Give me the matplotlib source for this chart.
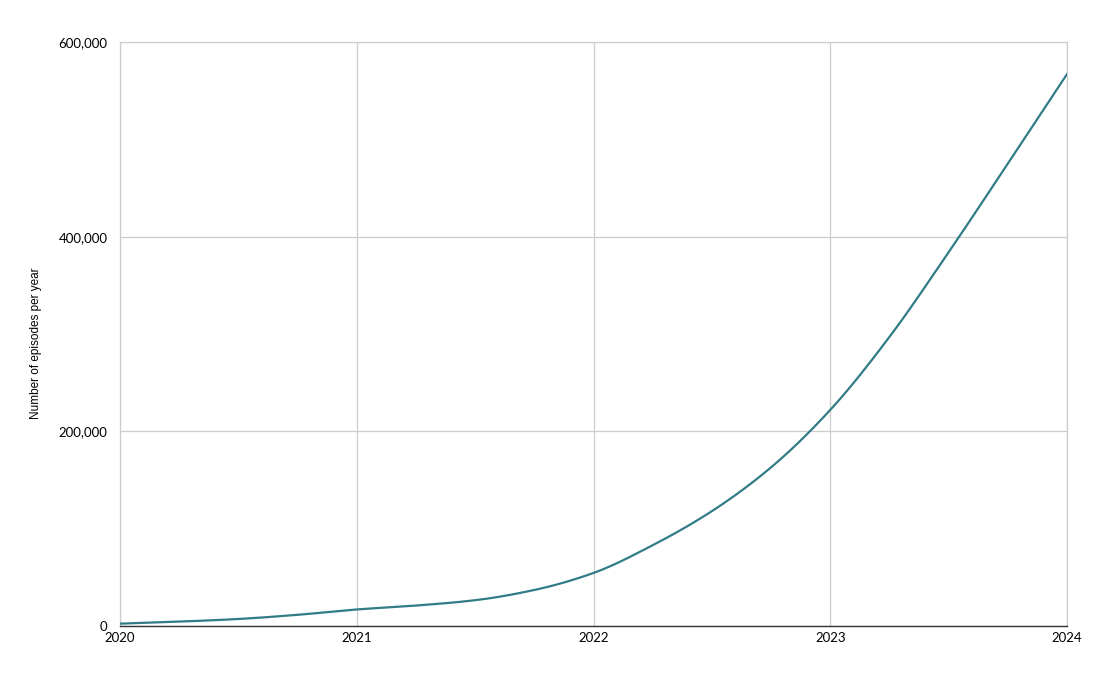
import matplotlib
matplotlib.use("Agg")
import matplotlib.pyplot as plt
import numpy as np
from matplotlib.ticker import FuncFormatter

# values, every quarter year
years = [2020, 2020.25, 2020.5, 2020.75, 2021, 2021.25, 2021.5, 2021.75,
         2022, 2022.25, 2022.5, 2022.75, 2023, 2023.25, 2023.5, 2023.75, 2024]
episodes = [2400, 4500, 7200, 11500, 17000, 21000, 26500, 37000,
            54500, 83000, 118000, 163000, 222000, 297000, 384000, 475000, 567000]
year_ticks = [2020, 2021, 2022, 2023, 2024]
value_ticks = [0, 200000, 400000, 600000]


# monotone cubic (like a smooth line renderer) so the curve is not jagged
def smooth_line(x, y, n=20):
    x = np.asarray(x, float)
    y = np.asarray(y, float)
    h = np.diff(x)
    d = np.diff(y) / h
    m = np.zeros_like(y)
    m[0], m[-1] = d[0], d[-1]
    for i in range(1, len(x) - 1):
        if d[i - 1] * d[i] > 0:
            w1 = 2 * h[i] + h[i - 1]
            w2 = h[i] + 2 * h[i - 1]
            m[i] = (w1 + w2) / (w1 / d[i - 1] + w2 / d[i])
    xs, ys = [], []
    for i in range(len(x) - 1):
        t = np.linspace(0, 1, n, endpoint=False)
        h00 = 2 * t**3 - 3 * t**2 + 1
        h10 = t**3 - 2 * t**2 + t
        h01 = -2 * t**3 + 3 * t**2
        h11 = t**3 - t**2
        xs.append(x[i] + t * h[i])
        ys.append(h00 * y[i] + h10 * h[i] * m[i] + h01 * y[i + 1] + h11 * h[i] * m[i + 1])
    xs.append([x[-1]])
    ys.append([y[-1]])
    return np.concatenate(xs), np.concatenate(ys)


fig = plt.figure(figsize=(11.02, 6.82), dpi=100)
ax = fig.add_axes([120 / 1102, 56 / 682, 947 / 1102, 584 / 682])

sx, sy = smooth_line(years, episodes)
ax.plot(sx, sy, color="#317c86", linewidth=1.6, zorder=3)

ax.set_xlim(2020, 2024)
ax.set_ylim(0, 600000)
ax.set_xticks(year_ticks)
ax.set_yticks(value_ticks)
ax.yaxis.set_major_formatter(FuncFormatter(lambda v, p: f"{int(v):,}"))
ax.xaxis.set_major_formatter(FuncFormatter(lambda v, p: f"{int(v)}"))

ax.grid(True, color="#cccccc", linewidth=0.9)
ax.set_axisbelow(True)
for side in ["left", "right", "top"]:
    ax.spines[side].set_color("#cccccc")
    ax.spines[side].set_linewidth(0.9)
ax.spines["bottom"].set_color("#333333")
ax.spines["bottom"].set_linewidth(1.0)
ax.spines["bottom"].set_zorder(4)

ax.tick_params(length=0, labelsize=9.5)
ax.tick_params(axis="y", pad=9)
ax.tick_params(axis="x", pad=4)
for lab in ax.get_xticklabels() + ax.get_yticklabels():
    lab.set_fontfamily("Lato")

ax.set_ylabel("Number of episodes per year", fontsize=8.5, family="Liberation Sans")
ax.yaxis.set_label_coords(-0.082, 0.485)

fig.savefig("out.png", dpi=100)
